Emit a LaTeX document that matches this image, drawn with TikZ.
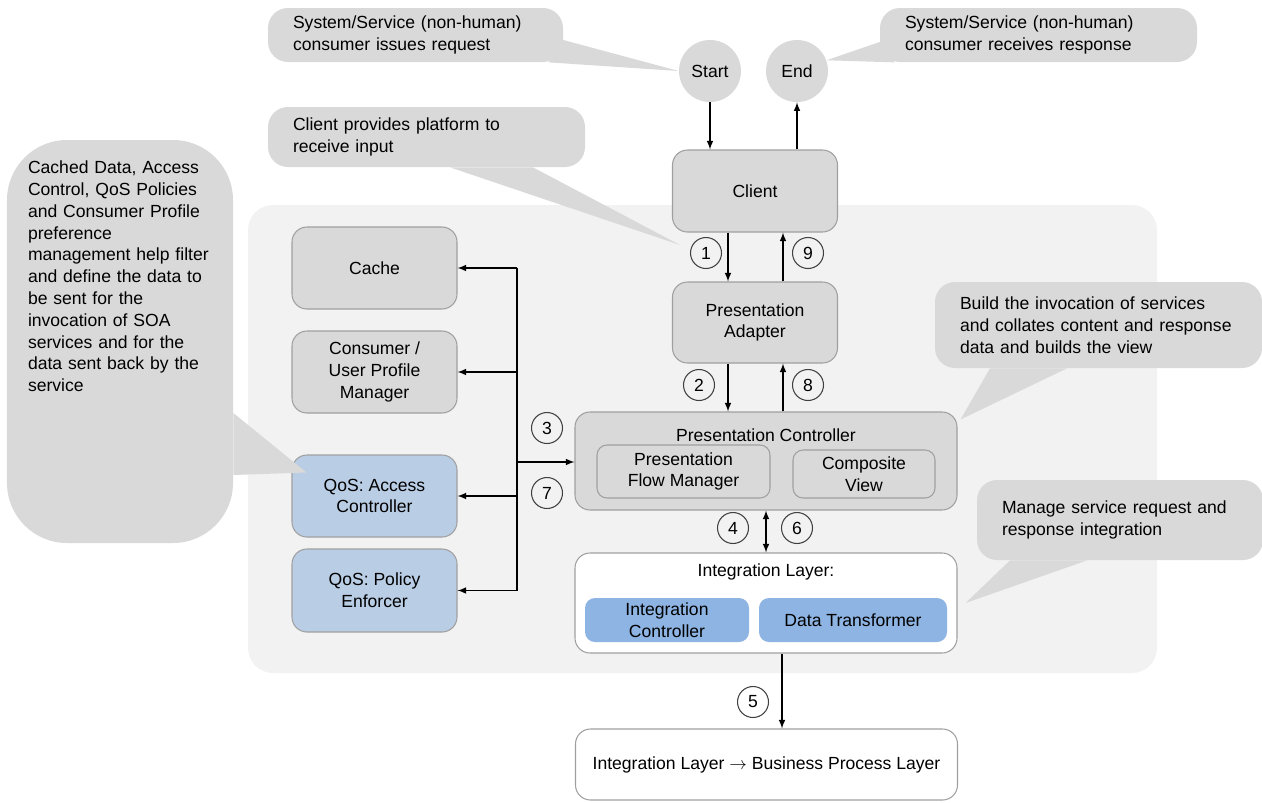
\documentclass[tikz,border=0pt]{standalone}
\usepackage{fontspec}
\setmainfont{Liberation Sans}
\usepackage{xcolor}
\usepackage{tikz}
\usetikzlibrary{shapes.geometric, arrows, positioning}
\definecolor{bubblegray}{RGB}{217,217,217}
\definecolor{panelgray}{RGB}{242,242,242}
\definecolor{boxgray}{RGB}{217,217,217}
\definecolor{edgegray}{RGB}{160,160,160}
\definecolor{qosblue}{RGB}{185,205,229}
\definecolor{intblue}{RGB}{141,180,226}
\tikzset{every node/.style={font=\normalfont}}

\begin{document}
\begin{tikzpicture}[every node/.style={font=\fontsize{10}{12.4}\selectfont}]
    % Define styles
    \tikzstyle{block} = [rectangle, rounded corners=0.3cm, minimum width=3.3cm, minimum height=1.64cm, align=center, draw=edgegray, fill=boxgray, line width=0.6pt]
    \tikzstyle{qos} = [block, fill=qosblue]
    \tikzstyle{subblock} = [rectangle, rounded corners=0.2cm, align=center, inner ysep=1pt, draw=edgegray, fill=boxgray, line width=0.6pt]
    \tikzstyle{intbox} = [rectangle, rounded corners=0.2cm, align=center, inner ysep=0pt, minimum height=0.88cm, fill=intblue]
    \tikzstyle{layerbox} = [rectangle, rounded corners=0.3cm, minimum width=7.64cm, draw=edgegray, fill=white, line width=0.6pt]
    \tikzstyle{terminal} = [circle, fill=bubblegray, minimum size=1.24cm, inner sep=0pt]
    \tikzstyle{num} = [circle, draw=black!75, line width=0.6pt, minimum size=0.62cm, inner sep=0pt]
    \tikzstyle{bubble} = [rectangle, rounded corners=0.4cm, fill=bubblegray, align=left, inner xsep=0.5cm]
    \tikzstyle{flow} = [->, >=latex, line width=0.7pt]

    \useasboundingbox (0,0) rectangle (25.24,-16.04);

    % Light panel behind the presentation tier
    \node (panel) [rectangle, rounded corners=0.5cm, fill=panelgray, minimum width=18.18cm, minimum height=9.36cm] at (14.05,-8.78) {};

    % Notes
    \node (creq) [bubble, text width=4.9cm, minimum height=1.08cm] at (8.31,-0.70) {System/Service (non-human)\\consumer issues request};
    \node (cresp) [bubble, text width=5.34cm, minimum height=1.08cm] at (20.77,-0.70) {System/Service (non-human)\\consumer receives response};
    \node (cclient) [bubble, text width=5.34cm, minimum height=1.2cm] at (8.53,-2.74) {Client provides platform to\\receive input};
    \node (cleft) [bubble, rounded corners=1.2cm, minimum width=4.52cm, minimum height=8.06cm] at (2.40,-6.83) {};
    \node (clefttext) [anchor=north west, inner sep=0pt, text width=4.1cm, align=left] at ([xshift=0.42cm, yshift=-0.42cm]cleft.north west) {Cached Data, Access\\Control, QoS Policies\\and Consumer Profile\\preference\\management help filter\\and define the data to\\be sent for the\\invocation of SOA\\services and for the\\data sent back by the\\service};
    \node (cbuild) [bubble, text width=5.54cm, minimum height=1.72cm] at (21.97,-6.50) {Build the invocation of services\\and collates content and response\\data and builds the view};
    \node (cmanage) [bubble, text width=4.72cm, minimum height=1.6cm] at (22.40,-10.40) {Manage service request and\\response integration};

    % Start and end of the request
    \node (start) [terminal] at (14.2,-1.42) {Start};
    \node (end) [terminal] at (15.94,-1.42) {End};

    % Main flow
    \node (client) [block] at (15.1,-3.82) {Client};
    \node (adapter) [block, minimum height=1.62cm] at (15.1,-6.45) {Presentation\\Adapter};
    \node (ctrl) [block, minimum width=7.64cm, minimum height=1.96cm] at (15.32,-9.22) {};
    \node (ctrltitle) at (15.32,-8.70) {Presentation Controller};
    \node (flowmgr) [subblock, minimum width=3.46cm, minimum height=1.06cm] at (13.67,-9.43) {Presentation\\Flow Manager};
    \node (compview) [subblock, minimum width=2.84cm, minimum height=0.96cm] at (17.28,-9.48) {Composite\\View};

    \node (intl) [layerbox, minimum height=2.0cm] at (15.32,-12.06) {};
    \node (intltitle) at (15.32,-11.44) {Integration Layer:};
    \node (intctrl) [intbox, minimum width=3.28cm] at (13.34,-12.40) {Integration\\Controller};
    \node (datatr) [intbox, minimum width=3.76cm] at (17.06,-12.40) {Data Transformer};

    \node (bpl) [layerbox, minimum height=1.42cm] at (15.33,-15.29) {Integration Layer $\rightarrow$ Business Process Layer};

    % Supporting services on the left
    \node (cache) [block] at (7.49,-5.36) {Cache};
    \node (profile) [block] at (7.49,-7.44) {Consumer /\\User Profile\\Manager};
    \node (access) [qos] at (7.49,-9.92) {QoS: Access\\Controller};
    \node (policy) [qos, minimum height=1.66cm] at (7.49,-11.81) {QoS: Policy\\Enforcer};

    % Step numbers
    \node (n1) [num] at (14.12,-5.06) {1};
    \node (n9) [num] at (16.16,-5.06) {9};
    \node (n2) [num] at (13.98,-7.70) {2};
    \node (n8) [num] at (16.16,-7.70) {8};
    \node (n3) [num] at (10.94,-8.56) {3};
    \node (n7) [num] at (10.94,-9.86) {7};
    \node (n4) [num] at (14.66,-10.56) {4};
    \node (n6) [num] at (15.94,-10.56) {6};
    \node (n5) [num] at (15.06,-14.04) {5};

    % Request / response arrows
    \draw [flow] (start.south) -- (start.south |- client.north);
    \draw [flow] (end.south |- client.north) -- (end.south);
    \draw [flow] ([xshift=-5.4mm]client.south) -- ([xshift=-5.4mm]adapter.north);
    \draw [flow] ([xshift=5.6mm]adapter.north) -- ([xshift=5.6mm]client.south);
    \draw [flow] ([xshift=-5.4mm]adapter.south) -- ([xshift=-5.4mm]adapter.south |- ctrl.north);
    \draw [flow] ([xshift=5.6mm]adapter.south |- ctrl.north) -- ([xshift=5.6mm]adapter.south);
    \draw [flow, <->] (ctrl.south) -- (intl.north);
    \draw [flow] ([xshift=3.2mm]intl.south) -- ([xshift=3.2mm]intl.south |- bpl.north);

    % Bus to the supporting services
    \coordinate (bus) at (10.34,-9.24);
    \draw [line width=0.7pt] (bus |- cache.east) -- (bus |- policy.east);
    \draw [flow] (bus) -- (bus -| ctrl.west);
    \draw [flow] (bus |- cache.east) -- (cache.east);
    \draw [flow] (bus |- profile.east) -- (profile.east);
    \draw [flow] (bus |- access.east) -- (access.east);
    \draw [flow] (bus |- policy.east) -- (policy.east);

    % Note tails
    \coordinate (ctip) at (13.6,-4.9);
    \fill [bubblegray] ([yshift=-1mm]creq.east) -- (start.west) -- ([xshift=-3mm]creq.south east) -- cycle;
    \fill [bubblegray] ([yshift=-1.4mm]cresp.west) -- (end.20) -- ([xshift=3mm]cresp.south west) -- cycle;
    \fill [bubblegray] ([xshift=0.47cm]cclient.south) -- (ctip) -- ([xshift=2.13cm]cclient.south) -- cycle;
    \fill [bubblegray] ([yshift=-1.43cm]cleft.east) -- ([xshift=3mm, yshift=-3.6mm]access.north west) -- ([yshift=-2.67cm]cleft.east) -- cycle;
    \fill [bubblegray] ([xshift=-2.17cm]cbuild.south) -- ([xshift=0.06cm, yshift=-0.16cm]ctrl.north east) -- ([xshift=-0.63cm]cbuild.south) -- cycle;
    \fill [bubblegray] ([xshift=-2.2cm]cmanage.south) -- ([xshift=0.16cm]intl.east) -- ([xshift=-0.66cm]cmanage.south) -- cycle;
\end{tikzpicture}
\end{document}
